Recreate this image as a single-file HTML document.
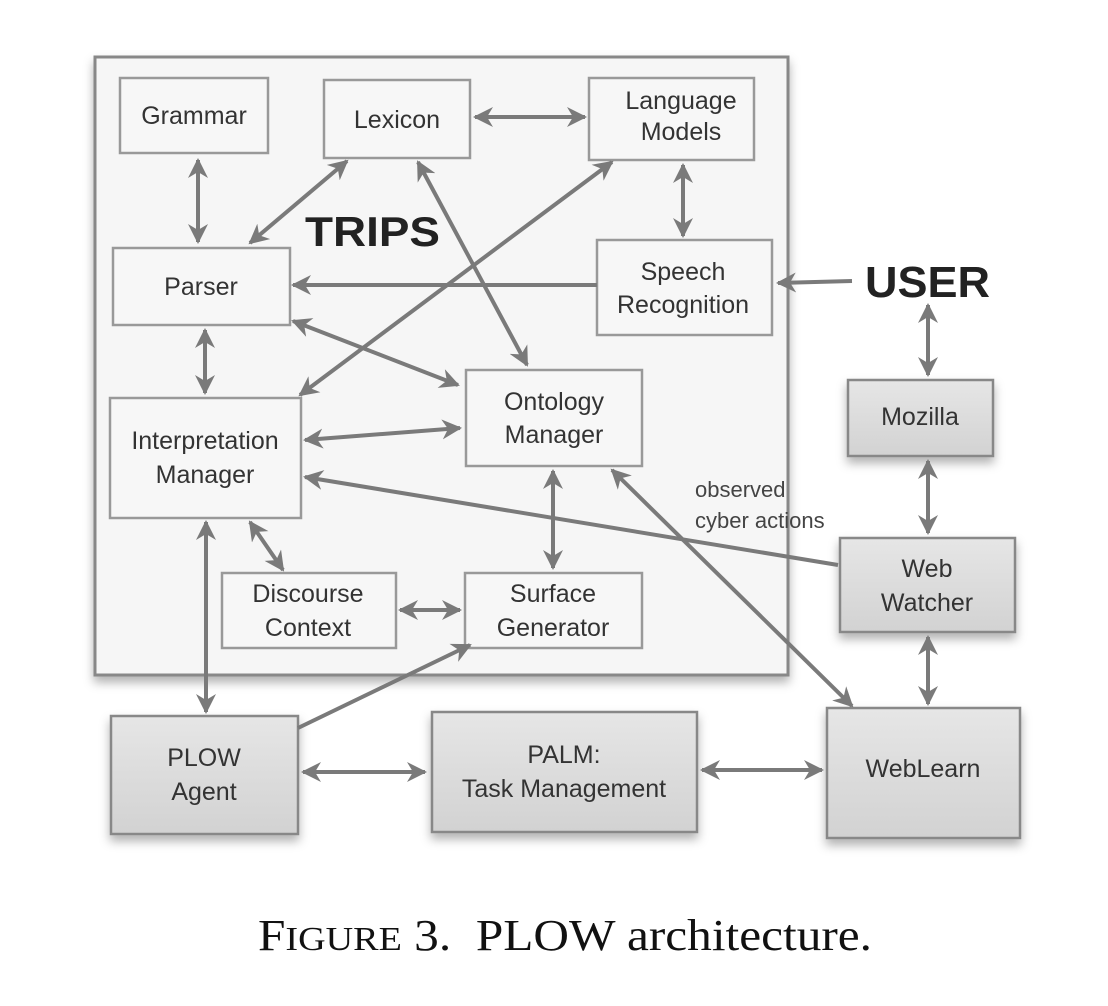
<!DOCTYPE html>
<html><head><style>
html,body{margin:0;padding:0;background:#fff;}
svg{display:block;}
.b{fill:#f7f7f7;stroke:#999;stroke-width:2.5;}
.g{fill:url(#gr);stroke:#888;stroke-width:2.5;filter:url(#sh);}
.t{font-family:"Liberation Sans",sans-serif;font-size:25px;fill:#333;text-anchor:middle;}
.l{stroke:#7a7a7a;stroke-width:4;fill:none;}
</style></head><body>
<svg width="1108" height="1006" viewBox="0 0 1108 1006" xmlns="http://www.w3.org/2000/svg">
<defs>
<linearGradient id="gr" x1="0" y1="0" x2="0" y2="1"><stop offset="0" stop-color="#e6e6e6"/><stop offset="1" stop-color="#d2d2d2"/></linearGradient>
<filter id="sh" x="-20%" y="-20%" width="140%" height="150%"><feDropShadow dx="0" dy="6" stdDeviation="5" flood-color="#000" flood-opacity="0.3"/></filter>
<marker id="a" viewBox="0 0 10 10" refX="9" refY="5" markerWidth="5" markerHeight="5" orient="auto-start-reverse" markerUnits="strokeWidth"><path d="M0,0 L10,5 L0,10 L3,5 z" fill="#7a7a7a"/></marker>
</defs>
<rect x="95" y="57" width="693" height="618" fill="#f6f6f6" stroke="#888" stroke-width="3" filter="url(#sh)"/>
<rect class="b" x="120" y="78" width="148" height="75"/><text class="t" x="194" y="124">Grammar</text>
<rect class="b" x="324" y="80" width="146" height="78"/><text class="t" x="397" y="128">Lexicon</text>
<rect class="b" x="589" y="78" width="165" height="82"/><text class="t" x="681" y="109">Language</text><text class="t" x="681" y="140">Models</text>
<rect class="b" x="113" y="248" width="177" height="77"/><text class="t" x="201" y="295">Parser</text>
<rect class="b" x="597" y="240" width="175" height="95"/><text class="t" x="683" y="280">Speech</text><text class="t" x="683" y="313">Recognition</text>
<rect class="b" x="110" y="398" width="191" height="120"/><text class="t" x="205" y="449">Interpretation</text><text class="t" x="205" y="483">Manager</text>
<rect class="b" x="466" y="370" width="176" height="96"/><text class="t" x="554" y="410">Ontology</text><text class="t" x="554" y="443">Manager</text>
<rect class="b" x="222" y="573" width="174" height="75"/><text class="t" x="308" y="602">Discourse</text><text class="t" x="308" y="636">Context</text>
<rect class="b" x="465" y="573" width="177" height="75"/><text class="t" x="553" y="602">Surface</text><text class="t" x="553" y="636">Generator</text>
<rect class="g" x="848" y="380" width="145" height="76"/><text class="t" x="920" y="425">Mozilla</text>
<rect class="g" x="840" y="538" width="175" height="94"/><text class="t" x="927" y="577">Web</text><text class="t" x="927" y="611">Watcher</text>
<rect class="g" x="111" y="716" width="187" height="118"/><text class="t" x="204" y="766">PLOW</text><text class="t" x="204" y="800">Agent</text>
<rect class="g" x="432" y="712" width="265" height="120"/><text class="t" x="564" y="763">PALM:</text><text class="t" x="564" y="797">Task Management</text>
<rect class="g" x="827" y="708" width="193" height="130"/><text class="t" x="923" y="777">WebLearn</text>
<text x="305" y="246" font-family="Liberation Sans,sans-serif" font-weight="bold" font-size="42" fill="#222" textLength="135" lengthAdjust="spacingAndGlyphs">TRIPS</text>
<text x="865" y="297" font-family="Liberation Sans,sans-serif" font-weight="bold" font-size="44" fill="#222" textLength="125" lengthAdjust="spacingAndGlyphs">USER</text>
<text x="695" y="497" font-family="Liberation Sans,sans-serif" font-size="22" fill="#444">observed</text>
<text x="695" y="528" font-family="Liberation Sans,sans-serif" font-size="22" fill="#444">cyber actions</text>
<g class="l" marker-start="url(#a)" marker-end="url(#a)">
<line x1="198" y1="160" x2="198" y2="242"/>
<line x1="475" y1="117" x2="585" y2="117"/>
<line x1="347" y1="161" x2="250" y2="243"/>
<line x1="418" y1="162" x2="527" y2="365"/>
<line x1="612" y1="162" x2="300" y2="395"/>
<line x1="683" y1="165" x2="683" y2="236"/>
<line x1="293" y1="321" x2="458" y2="385"/>
<line x1="205" y1="330" x2="205" y2="393"/>
<line x1="305" y1="440" x2="460" y2="428"/>
<line x1="553" y1="471" x2="553" y2="568"/>
<line x1="250" y1="522" x2="283" y2="570"/>
<line x1="400" y1="610" x2="460" y2="610"/>
<line x1="206" y1="522" x2="206" y2="712"/>
<line x1="612" y1="470" x2="852" y2="706"/>
<line x1="928" y1="305" x2="928" y2="375"/>
<line x1="928" y1="461" x2="928" y2="533"/>
<line x1="928" y1="637" x2="928" y2="704"/>
<line x1="303" y1="772" x2="425" y2="772"/>
<line x1="702" y1="770" x2="822" y2="770"/>
</g>
<g class="l" marker-end="url(#a)">
<line x1="597" y1="285" x2="293" y2="285"/>
<line x1="852" y1="281" x2="778" y2="283"/>
<line x1="838" y1="565" x2="305" y2="477"/>
<line x1="298" y1="728" x2="470" y2="645"/>
</g>
<text x="258" y="950" font-family="Liberation Serif,serif" font-size="44" fill="#111" textLength="614" lengthAdjust="spacingAndGlyphs" xml:space="preserve">F<tspan font-size="34">IGURE</tspan> 3.  PLOW architecture.</text>
</svg>
</body></html>
